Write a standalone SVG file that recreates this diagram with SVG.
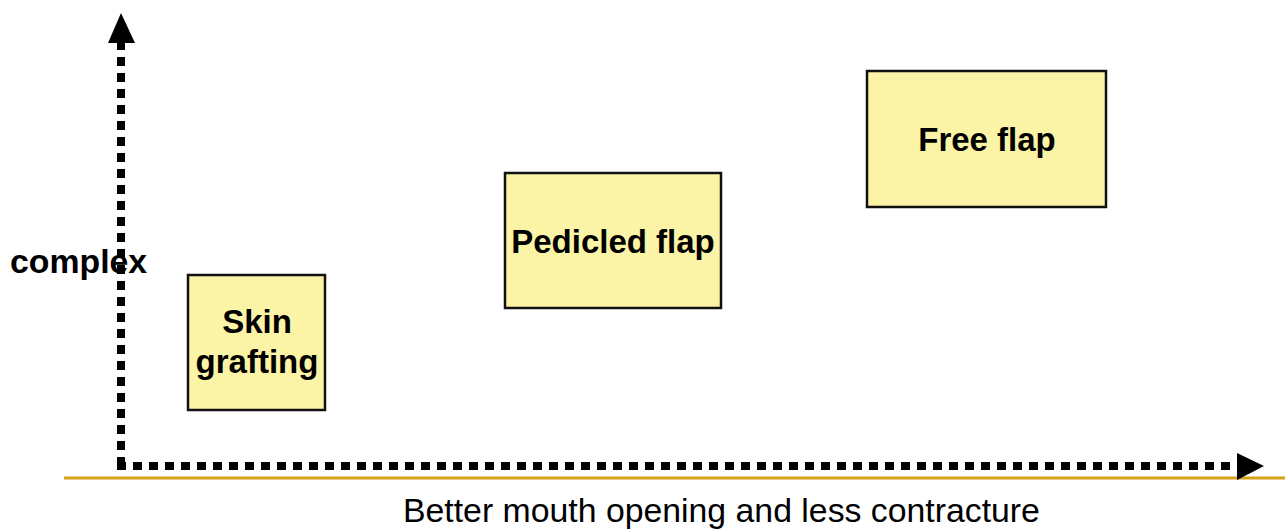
<svg xmlns="http://www.w3.org/2000/svg" width="1285" height="529" viewBox="0 0 1285 529">
  <style>
    .box { fill: #FBF3A6; stroke: #111111; stroke-width: 2.5; }
    .lbl { font-family: "Liberation Sans", Arial, sans-serif; font-weight: bold; font-size: 33px; fill: #000000; text-anchor: middle; }
    .axis { fill: none; stroke: #000000; stroke-width: 8; stroke-dasharray: 9 7; }
    .axis-label { font-family: "Liberation Sans", Arial, sans-serif; font-size: 33.8px; fill: #000000; }
  </style>
  <rect width="1285" height="529" fill="#ffffff"/>

  <!-- baseline rule under the horizontal axis -->
  <line x1="64" y1="478" x2="1285" y2="478" stroke="#D6A21A" stroke-width="3"/>

  <g id="connectors">
    <!-- vertical axis -->
    <line class="axis" x1="121" y1="466" x2="121" y2="42"/>
    <polygon points="108,43 121,13 135,43" fill="#000000"/>
    <!-- horizontal axis -->
    <line class="axis" x1="117" y1="466" x2="1238" y2="466"/>
    <polygon points="1237,453 1264,466 1237,480" fill="#000000"/>
  </g>

  <g id="label-complex">
    <text class="axis-label" x="10" y="273" font-weight="bold" font-size="33">complex</text>
  </g>
  <g id="label-better">
    <text class="axis-label" x="403" y="522">Better mouth opening and less contracture</text>
  </g>

  <g id="node-skin-grafting">
    <rect class="box" x="188" y="275" width="137" height="135"/>
    <text class="lbl" x="257" y="333" font-size="32">Skin</text>
    <text class="lbl" x="257" y="373" font-size="32">grafting</text>
  </g>

  <g id="node-pedicled-flap">
    <rect class="box" x="505" y="173" width="216" height="135"/>
    <text class="lbl" x="613" y="253">Pedicled flap</text>
  </g>

  <g id="node-free-flap">
    <rect class="box" x="867" y="71" width="239" height="136"/>
    <text class="lbl" x="987" y="151">Free flap</text>
  </g>
</svg>
